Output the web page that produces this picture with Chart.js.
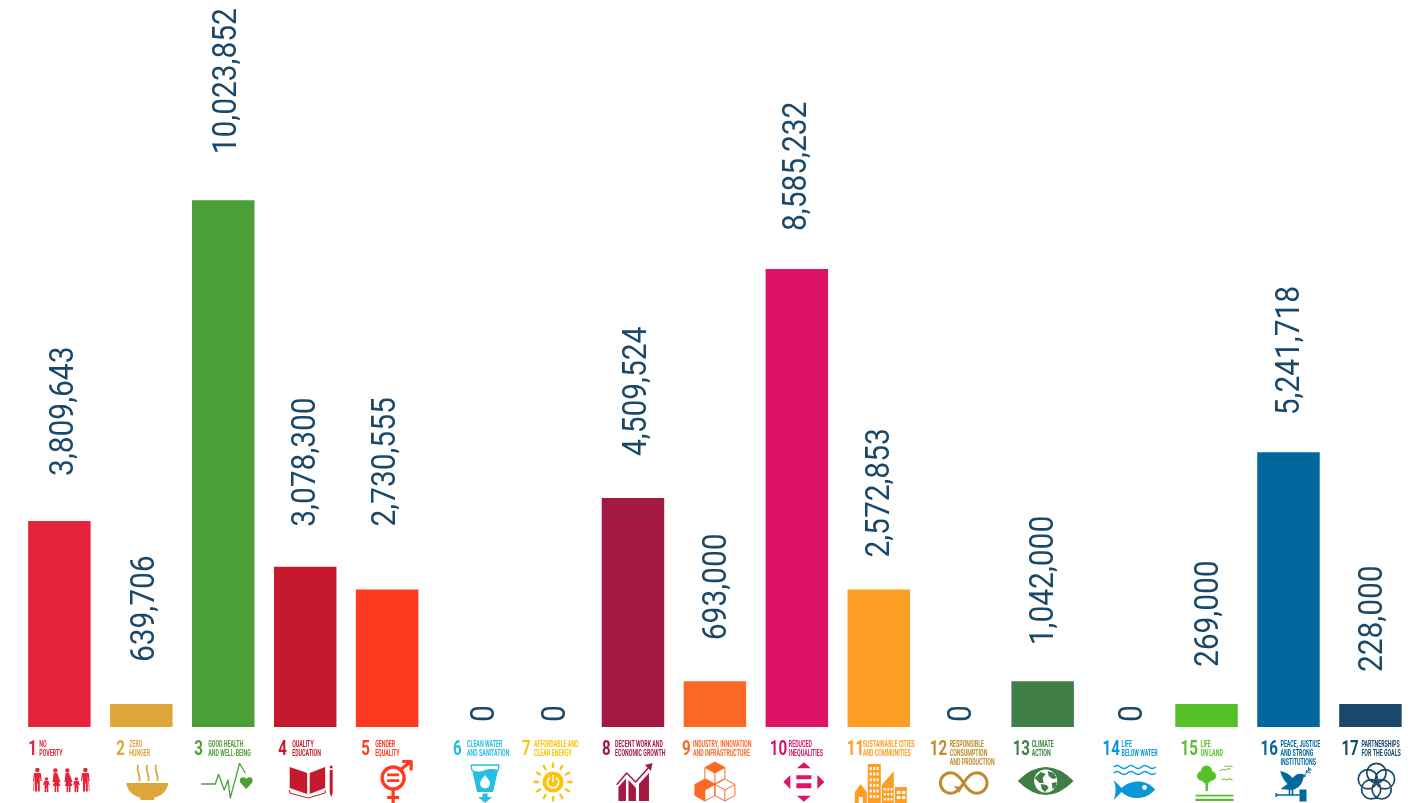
<!DOCTYPE html>
<html>
<head>
<meta charset="utf-8">
<title>SDG funding</title>
<script src="https://cdn.jsdelivr.net/npm/chart.js@4"></script>
<style>
  html, body { margin: 0; padding: 0; background: #fff; }
  canvas { display: block; }
</style>
</head>
<body>
<canvas id="graphic" width="1413" height="803"></canvas>
<script>
// share of the total per goal, this is what sets the bar height
const goalShares = [9, 1, 23, 7, 6, 0, 0, 10, 2, 20, 6, 0, 2, 0, 1, 12, 1];
// the amount printed above each bar
const goalAmounts = [3809643, 639706, 10023852, 3078300, 2730555, 0, 0, 4509524, 693000, 8585232, 2572853, 0, 1042000, 0, 269000, 5241718, 228000];
const goalNumbers = ["1", "2", "3", "4", "5", "6", "7", "8", "9", "10", "11", "12", "13", "14", "15", "16", "17"];
const goalNames = [
  ["NO", "POVERTY"],
  ["ZERO", "HUNGER"],
  ["GOOD HEALTH", "AND WELL-BEING"],
  ["QUALITY", "EDUCATION"],
  ["GENDER", "EQUALITY"],
  ["CLEAN WATER", "AND SANITATION"],
  ["AFFORDABLE AND", "CLEAN ENERGY"],
  ["DECENT WORK AND", "ECONOMIC GROWTH"],
  ["INDUSTRY, INNOVATION", "AND INFRASTRUCTURE"],
  ["REDUCED", "INEQUALITIES"],
  ["SUSTAINABLE CITIES", "AND COMMUNITIES"],
  ["RESPONSIBLE", "CONSUMPTION", "AND PRODUCTION"],
  ["CLIMATE", "ACTION"],
  ["LIFE", "BELOW WATER"],
  ["LIFE", "ON LAND"],
  ["PEACE, JUSTICE", "AND STRONG", "INSTITUTIONS"],
  ["PARTNERSHIPS", "FOR THE GOALS"]
];
const goalColors = ["#E5243B", "#DDA63A", "#4C9F38", "#C5192D", "#FF3A21", "#26BDE2", "#FCC30B", "#A21942", "#FD6925", "#DD1367", "#FD9D24", "#BF8B2E", "#3F7E44", "#0A97D9", "#56C02B", "#00689D", "#19486A"];

// layout, not data: where each rotated amount sits, and tick text offsets from the bar centre
const amountGaps = [45, 42, 46, 40, 63, 5, 5, 42, 41, 38, 32, 5, 36, 5, 37, 37, 32];
const amountShifts = [14, 13, 13, 10, 8, 25, 14, 13, 11, 9, 10, 10, 10, 17, 11, 11, 12];
const numberOffsets = [-31, -25, -29, -27, -26, -16, -29, -31, -33, -27, -32, -31, -30, -22, -26, -28, -29];
const nameOffsets = [-20, -12, -15, -13, -12, -2, -17, -18, -22, -8, -16, -11, -11, -3, -6, -8, -9];
const iconOffsets = [2, 6, 4, 5, 6, 16, 2, 1, 0, 7, 2, 3, 3, 10, 8, 5, 6];
const iconY = [780, 782, 781, 781, 778, 782, 782, 782, 782, 782, 783, 783, 781, 782, 782, 782, 782];

function man(x) {
  return `M${x - 3.4} -7 h6.8 l1 8 h-1.2 l-.8 -5 v15.5 h-2 v-8 h-.8 v8 h-2 v-15.5 l-.8 5 h-1.2 Z`;
}
function woman(x) {
  return `M${x - 1.8} -7 h3.6 l3.4 9 h-1.6 l1.4 4 h-1.8 v6 h-1.6 v-6 h-.8 v6 h-1.6 v-6 h-1.8 l1.4 -4 h-1.6 Z`;
}
function kid(x) {
  return `M${x - 2.2} 1 h4.4 l1.4 4 h-1 l-.6 -1.4 v8.4 h-1.6 v-4 h-.6 v4 h-1.6 v-8.4 l-.6 1.4 h-1 Z`;
}
function dot(x, y, r) {
  return `M${x - r} ${y} a${r} ${r} 0 1 0 ${2 * r} 0 a${r} ${r} 0 1 0 ${-2 * r} 0 Z`;
}
function cube(x, y) {
  return `M${x} ${y - 11} l10 5.5 v11 l-10 5.5 l-10 -5.5 v-11 Z M${x - 10} ${y - 5.5} l10 5.5 l10 -5.5 M${x} ${y} v11`;
}
function diamond(x, y) {
  return `M${x} ${y - 11} l10 5.5 l-10 5.5 l-10 -5.5 Z`;
}
function sunRays() {
  let d = "";
  for (let i = 0; i < 12; i++) {
    const a = i * Math.PI / 6;
    d += `M${14 * Math.cos(a)} ${14 * Math.sin(a)} L${19.5 * Math.cos(a)} ${19.5 * Math.sin(a)} `;
  }
  return d;
}
function rings() {
  let d = "";
  for (let i = 0; i < 5; i++) {
    const a = -Math.PI / 2 + i * 2 * Math.PI / 5;
    d += dot(9 * Math.cos(a), 9 * Math.sin(a), 9.6) + " ";
  }
  return d;
}
function grid(x, y, cols, rows, w, h, stepX, stepY) {
  let d = "";
  for (let r = 0; r < rows; r++) {
    for (let c = 0; c < cols; c++) {
      d += `M${x + c * stepX} ${y + r * stepY} h${w} v${h} h${-w} Z `;
    }
  }
  return d;
}

// icon art around its own centre: [f fill / s stroke / w white fill / W white stroke, line width, path]
const goalIcons = [
  [
    ["f", 0, man(-24) + man(24) + woman(-6) + woman(6) + kid(-15) + kid(15)],
    ["f", 0, dot(-24, -10, 2.3) + dot(24, -10, 2.3) + dot(-6, -9.5, 2.2) + dot(6, -9.5, 2.2) + dot(-15, -1, 1.8) + dot(15, -1, 1.8)],
    ["s", .7, "M-28 11 L-27 0 M28 11 L27 0"]
  ],
  [
    ["f", 0, "M-21 1 H21 C20 10 12 15 7 15.5 L7 18 H-7 L-7 15.5 C-12 15 -20 10 -21 1 Z"],
    ["s", 1.8, "M-9 -17 C-12 -12 -6 -7 -8 -1 M0 -17 C-3 -12 3 -7 1 -1 M9 -17 C6 -12 12 -7 10 -1"]
  ],
  [
    ["s", 1.3, "M-26 3 H-12 L-8.7 -6.7 L-3 9 L.7 -1 L3 17 L12.3 -17.7 L18 -7.7"],
    ["f", 0, "M19 8 L13 1.5 C11 -4 17 -5 19 -2 C21 -5 27 -4 25 1.5 Z"]
  ],
  [
    ["f", 0, "M-20.5 -14 L-3 -8 V13 L-20.5 7 Z M-.5 -8 L15 -14 V7 L-.5 13 Z"],
    ["s", 1, "M-20.5 9 V12 L-2 17 L15 12 V9"],
    ["f", 0, "M19.5 -11 h3 V12 L21 16 L19.5 12 Z"],
    ["f", 0, dot(21, -14, 1.5)]
  ],
  [
    ["s", 3.4, dot(0, 0, 11)],
    ["s", 3.2, "M7 -8 L17 -16 M9 -16.5 H18 V-7.5 M0 11 V25 M-6 19.5 H6"],
    ["f", 0, "M-6 -4.5 h12 v2.8 h-12 Z M-6 1.2 h12 v2.8 h-12 Z"]
  ],
  [
    ["s", 1.3, "M-14 -17 H14 L13 -11 M-14 -17 L-13 -11"],
    ["f", 0, "M-13 -12 Q-6 -9 0 -12 Q6 -14 13 -12 L8 10 H-8 Z"],
    ["w", 0, "M0 -7 C3 -3 5 -1 5 1.5 A5 5 0 0 1 -5 1.5 C-5 -1 -3 -3 0 -7 Z"],
    ["f", 0, "M-2.5 11.5 H2.5 V15 H7 L0 21 L-7 15 H-2.5 Z"]
  ],
  [
    ["s", 2.3, sunRays()],
    ["f", 0, dot(0, 0, 10.5)],
    ["W", 1.6, "M-3 -4.5 A5.6 5.6 0 1 0 3 -4.5"],
    ["W", 1.6, "M0 -7 V0"]
  ],
  [
    ["f", 0, "M-15.5 19 V5 L-8 -3.5 V19 Z M-5.5 19 V-2 L2 6 V19 Z M5 19 V2 L15 -9 V19 Z"],
    ["s", 1.5, "M-17.3 2.7 L-7.3 -9 L1.7 0 L16 -16"],
    ["f", 0, "M11 -17 L18.5 -19 L17 -11 Z"]
  ],
  [
    ["f", 0, diamond(0, -9) + diamond(-10, 8) + "M-20 2.5 L-10 8 V19 L-20 13.5 Z"],
    ["s", 1, cube(0, -9) + cube(-10, 8) + cube(10, 8)]
  ],
  [
    ["f", 0, "M-7 -13.7 L0 -19.7 L7 -13.7 Z M-7 13.7 L0 19.7 L7 13.7 Z M-13.5 -7 L-20.5 0 L-13.5 7 Z M13.5 -7 L20.5 0 L13.5 7 Z"],
    ["f", 0, "M-7.5 -6.7 h15 v4 h-15 Z M-7.5 1.3 h15 v5 h-15 Z"]
  ],
  [
    ["f", 0, "M-13 -19 H0 V20 H-13 Z M1 2 L13 -12 V20 H1 Z M14 4 H26 V20 H14 Z M-26 20 V9 L-20 1 L-14 9 V20 Z"],
    ["w", 0, grid(-11, -16, 3, 6, 2, 3, 3.4, 5.6) + grid(3, 5, 3, 3, 2, 2.6, 3.4, 5) + grid(16, 8, 2, 2, 3.5, 3, 5, 5)],
    ["w", 0, "M-22 14 h4 v6 h-4 Z"]
  ],
  [
    ["s", 3, "M0 0 C-5 -8 -9 -10.3 -13 -10.3 A10.3 10.3 0 0 0 -13 10.3 C-8 10.3 -4 7 0 0 C4 -7 8 -10.3 13 -10.3 A10.3 10.3 0 0 1 13 10.3 C8 10.3 4 7 0 0"],
    ["f", 0, "M-10 3 L-2 4 L-4 10 Z"]
  ],
  [
    ["f", 0, "M-28 0 Q-14 -14 0 -14 Q14 -14 28 0 Q14 14 0 14 Q-14 14 -28 0 Z"],
    ["w", 0, dot(0, 0, 11.5)],
    ["f", 0, "M-11 -3 L-5 -9 L0 -7 L-3 -3 L-2 2 L-6 2 L-9 -1 Z M-5 3 L1 4 L3 7 L-1 11 L-4 8 Z M2 -10 L8 -8 L11 -3 L7 -2 L3 -5 Z M6 2 L11 1 L10 6 L7 8 Z"]
  ],
  [
    ["s", 1.5, "M-21 -15 q3.5 -3 7 0 t7 0 t7 0 t7 0 t7 0 t7 0 M-21 -9 q3.5 -3 7 0 t7 0 t7 0 t7 0 t7 0 t7 0"],
    ["f", 0, "M20.5 7.5 C12 -3 -4 -3 -13 6 L-21 -2 Q-17 8 -21 18 L-13 10 C-4 19 12 18 20.5 7.5 Z"],
    ["w", 0, dot(10, 5.5, 2.4)]
  ],
  [
    ["f", 0, dot(-8, -11, 5.5) + dot(-12.5, -6, 5) + dot(-3.5, -6, 5) + dot(-8, -3, 4.5)],
    ["f", 0, "M-9 0 h2.4 v9 h-2.4 Z M-19 12.7 H19 V14.5 H-19 Z M-19 16.8 H19 V19 H-19 Z"],
    ["s", 1, "M5 -11 Q8 -14 11 -12 Q13 -14 16 -13 M10 -15.5 Q13 -17 14 -15.5 Q16 -17 18 -15 M7 -2 Q10 -4.5 12 -2 Q14 -4 18 -2.5"]
  ],
  [
    ["f", 0, "M-13.3 -11 C-8 -10 -4 -8 -1 -4 C2 -8 6 -9 9 -8 L13 -6 L10 -4.5 C9 2 5 7 -2 8 L-13 7 L-6 2 C-10 -2 -12 -6 -13.3 -11 Z"],
    ["s", 1, "M11 -7 L17 -14 M14 -10 L17 -9 M15 -12 L18 -12 M13 -9 L13 -12 M15 -12 L15 -15"],
    ["s", 1.6, "M-18 13 H6 M-4 7 V13 M-1 7 V13"],
    ["f", 0, "M6 7.5 H13 V19.5 H6 Z M-18 11 h1.4 v4 h-1.4 Z"]
  ],
  [
    ["s", 1.7, rings()]
  ]
];

const labelPlugin = {
  id: "goalLabels",
  afterDraw(chart) {
    const ctx = chart.ctx;
    const x = chart.scales.x;
    const y = chart.scales.y;
    goalShares.forEach((share, i) => {
      const cx = x.getPixelForValue(i);
      const color = goalColors[i];

      // amount above the bar, rotated and a bit squeezed along its length
      ctx.save();
      ctx.translate(cx + amountShifts[i], y.getPixelForValue(share) - amountGaps[i]);
      ctx.rotate(-Math.PI / 2);
      ctx.scale(0.906, 1);
      ctx.font = "33px Roboto";
      ctx.fillStyle = "#19486A";
      ctx.textAlign = "left";
      ctx.textBaseline = "alphabetic";
      ctx.fillText(goalAmounts[i].toLocaleString("en-US"), 0, 0);
      ctx.restore();

      // goal number
      ctx.save();
      ctx.translate(cx + numberOffsets[i], 755);
      ctx.scale(0.72, 1);
      ctx.font = "bold 21px Roboto";
      ctx.fillStyle = color;
      ctx.fillText(goalNumbers[i], 0, 0);
      ctx.restore();

      // goal name
      goalNames[i].forEach((line, n) => {
        ctx.save();
        ctx.translate(cx + nameOffsets[i], 746.5 + n * 9);
        ctx.scale(0.63, 1);
        ctx.font = "bold 8.4px Roboto";
        ctx.fillStyle = color;
        ctx.fillText(line, 0, 0);
        ctx.restore();
      });

      // icon
      ctx.save();
      ctx.translate(cx + iconOffsets[i], iconY[i]);
      ctx.lineJoin = "round";
      goalIcons[i].forEach(([mode, width, d]) => {
        const path = new Path2D(d);
        const paint = mode === "w" || mode === "W" ? "#fff" : color;
        if (mode === "f" || mode === "w") {
          ctx.fillStyle = paint;
          ctx.fill(path);
        } else {
          ctx.strokeStyle = paint;
          ctx.lineWidth = width;
          ctx.stroke(path);
        }
      });
      ctx.restore();
    });
  }
};

new Chart(document.getElementById("graphic").getContext("2d"), {
  type: "bar",
  data: {
    labels: goalNames.map((lines, i) => goalNumbers[i] + " " + lines.join(" ")),
    datasets: [{
      label: "Share of total",
      data: goalShares,
      backgroundColor: goalColors,
      barPercentage: 0.7625,
      categoryPercentage: 1
    }]
  },
  options: {
    responsive: false,
    animation: false,
    layout: { padding: { left: 18.4, right: 1.6, top: 0, bottom: 76 } },
    plugins: { legend: { display: false }, tooltip: { enabled: false } },
    scales: {
      x: { display: false },
      y: { display: false, min: 0, max: 31.75 }
    }
  },
  plugins: [labelPlugin]
});
</script>
</body>
</html>
